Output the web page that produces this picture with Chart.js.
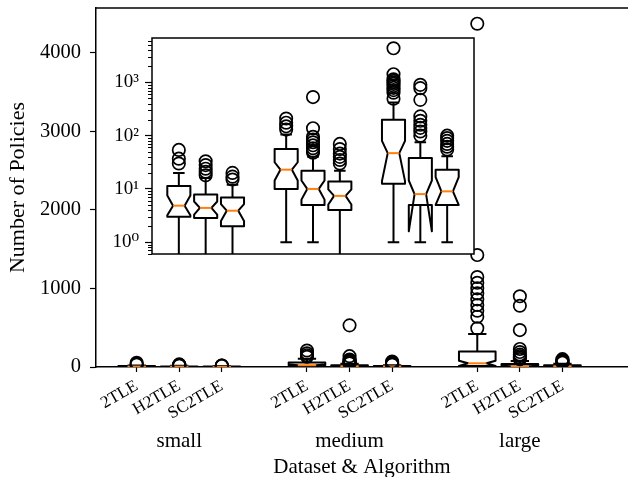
<!DOCTYPE html>
<html><head><meta charset="utf-8">
<script src="https://cdn.jsdelivr.net/npm/chart.js@4/dist/chart.umd.min.js"></script>
<style>
html,body{margin:0;padding:0;background:#fff;overflow:hidden;}
#wrap{position:relative;width:628px;height:477px;}
canvas{position:absolute;left:0;top:0;}
</style></head><body>
<div id="wrap"><canvas id="main" width="628" height="477"></canvas><canvas id="inset" width="628" height="477"></canvas></div>
<script>
// ---- data ----
const groups = ['small', 'medium', 'large'];
const groupCenters = [2, 6, 10];
const algorithms = ['2TLE', 'H2TLE', 'SC2TLE'];
const positions = [1, 2, 3, 5, 6, 7, 9, 10, 11];
const tickLabels = ['2TLE', 'H2TLE', 'SC2TLE', '2TLE', 'H2TLE', 'SC2TLE', '2TLE', 'H2TLE', 'SC2TLE'];
const q1 = [3, 2.85, 2, 10, 5, 4, 12.5, 5, 5];
const medians = [4.85, 4.4, 3.9, 23, 10, 7.4, 47, 8, 9];
const q3 = [11.3, 7.9, 6.9, 56, 22, 13.8, 198, 38, 23];
const whiskerLow = [0, 0, 0, 1, 1, 0, 1, 1, 1];
const whiskerHigh = [20, 16, 12, 105, 40, 22, 420, 75, 41];
const notchLow = [3.2, 3.3, 2.5, 14.4, 6.3, 5.1, 14, 1.6, 5];
const notchHigh = [7.5, 5.8, 5.2, 31.7, 14.4, 9.8, 80, 14.4, 16.6];
const outliers = [
  [54, 37, 30],
  [33, 28, 24, 21, 18],
  [20, 17, 15],
  [210, 175, 150, 130],
  [530, 138, 95, 85, 75, 66, 58, 52, 48],
  [70, 56, 46, 40, 35, 30],
  [4370, 1425, 1145, 1072, 1001, 937, 861, 789, 716, 640, 492],
  [900, 780, 470, 230, 190, 160, 140, 120, 100],
  [100, 90, 80, 70, 62, 55]
];
const mainYTicks = [0, 1000, 2000, 3000, 4000];
const insetYTicks = [1, 10, 100, 1000];
const insetYTickLabels = ['10\u2070', '10\u00B9', '10\u00B2', '10\u00B3'];

// ---- styling ----
const FONT = "'Liberation Serif', 'DejaVu Serif', serif";
const boxWidth = 0.86;
const outlierPoints = outliers.flatMap((arr, i) => arr.map(v => ({x: positions[i], y: v})));

const boxPlugin = {
  id: 'boxes',
  beforeDatasetsDraw(chart) {
    const {ctx, chartArea: a} = chart;
    const xs = chart.scales.x, ys = chart.scales.y;
    const log = ys.type === 'logarithmic';
    const Y = v => ys.getPixelForValue(log ? Math.max(v, 1e-4) : v);
    const X = v => xs.getPixelForValue(v);
    ctx.save();
    ctx.beginPath(); ctx.rect(a.left, a.top, a.right - a.left, a.bottom - a.top); ctx.clip();
    ctx.lineJoin = 'round'; ctx.lineCap = 'butt';
    positions.forEach((p, i) => {
      const xl = X(p - boxWidth / 2), xr = X(p + boxWidth / 2);
      const cl = X(p - boxWidth / 4), cr = X(p + boxWidth / 4), xc = X(p);
      ctx.strokeStyle = '#000'; ctx.lineWidth = 2;
      ctx.beginPath();
      ctx.moveTo(xc, Y(q1[i])); ctx.lineTo(xc, Y(whiskerLow[i]));
      ctx.moveTo(xc, Y(q3[i])); ctx.lineTo(xc, Y(whiskerHigh[i]));
      ctx.moveTo(cl, Y(whiskerLow[i])); ctx.lineTo(cr, Y(whiskerLow[i]));
      ctx.moveTo(cl, Y(whiskerHigh[i])); ctx.lineTo(cr, Y(whiskerHigh[i]));
      ctx.stroke();
      const pts = [[xl, q1[i]], [xr, q1[i]], [xr, notchLow[i]], [cr, medians[i]], [xr, notchHigh[i]],
                   [xr, q3[i]], [xl, q3[i]], [xl, notchHigh[i]], [cl, medians[i]], [xl, notchLow[i]], [xl, q1[i]]];
      ctx.beginPath();
      pts.forEach(([x, v], k) => k ? ctx.lineTo(x, Y(v)) : ctx.moveTo(x, Y(v)));
      ctx.closePath();
      ctx.stroke();
      ctx.strokeStyle = '#ff7f0e';
      ctx.beginPath(); ctx.moveTo(cl, Y(medians[i])); ctx.lineTo(cr, Y(medians[i])); ctx.stroke();
    });
    ctx.restore();
  }
};

const mainFrame = {
  id: 'mainFrame',
  afterDraw(chart) {
    const {ctx, chartArea: a} = chart;
    ctx.save(); ctx.strokeStyle = '#000'; ctx.lineWidth = 1.5;
    ctx.beginPath(); ctx.moveTo(a.left, a.top); ctx.lineTo(a.right, a.top); ctx.stroke();
    ctx.restore();
  }
};

const insetFrame = {
  id: 'insetFrame',
  beforeDraw(chart) {
    const {ctx, chartArea: a} = chart;
    ctx.save(); ctx.fillStyle = '#fff';
    ctx.fillRect(a.left, a.top, a.right - a.left, a.bottom - a.top);
    ctx.restore();
  },
  afterDraw(chart) {
    const {ctx, chartArea: a} = chart;
    const ys = chart.scales.y;
    ctx.save(); ctx.strokeStyle = '#000'; ctx.lineWidth = 1.5;
    ctx.strokeRect(a.left, a.top, a.right - a.left, a.bottom - a.top);
    ctx.lineWidth = 1;
    ctx.beginPath();
    [0.1, 1, 10, 100, 1000].forEach(d => {
      for (let m = 2; m <= 9; m++) {
        const v = m * d;
        if (v < ys.min || v > ys.max) continue;
        const y = Math.round(ys.getPixelForValue(v)) + 0.5;
        ctx.moveTo(a.left - 4, y); ctx.lineTo(a.left, y);
      }
    });
    ctx.stroke();
    ctx.restore();
  }
};

const pointStyle = {
  data: outlierPoints, pointStyle: 'circle', pointRadius: 6.2, pointHoverRadius: 6.2,
  pointBorderColor: '#000', pointBackgroundColor: 'rgba(0,0,0,0)', pointBorderWidth: 1.7,
  showLine: false, clip: 0
};

const common = {
  responsive: false, animation: false, devicePixelRatio: 1, events: [],
  plugins: {legend: {display: false}, tooltip: {enabled: false}}
};

new Chart(document.getElementById('main'), {
  type: 'scatter',
  data: {datasets: [Object.assign({}, pointStyle)]},
  plugins: [boxPlugin, mainFrame],
  options: Object.assign({}, common, {
    layout: {autoPadding: false, padding: {top: 8, right: 0, bottom: 0, left: 0}},
    scales: {
      x: {
        type: 'linear', position: 'bottom', weight: 0, min: 0.045, max: 12.54,
        afterBuildTicks: s => { s.ticks = positions.map(v => ({value: v})); },
        afterFit: s => { s.height = 58; s.paddingLeft = 0; s.paddingRight = 0; },
        ticks: {autoSkip: false, minRotation: 30, maxRotation: 30, color: '#000', padding: 4,
                font: {family: FONT, size: 17}, callback: (v, i) => tickLabels[i]},
        grid: {drawOnChartArea: false, drawTicks: true, tickLength: 5, color: '#000', tickWidth: 1.2},
        border: {display: true, color: '#000', width: 1.5}
      },
      x2: {
        type: 'linear', position: 'bottom', weight: 1, min: 0.045, max: 12.54,
        afterBuildTicks: s => { s.ticks = groupCenters.map(v => ({value: v})); },
        afterFit: s => { s.height = 52; s.paddingLeft = 0; s.paddingRight = 0; },
        ticks: {autoSkip: false, minRotation: 0, maxRotation: 0, color: '#000', padding: 4,
                font: {family: FONT, size: 21}, callback: (v, i) => groups[i]},
        grid: {display: false, drawTicks: false},
        border: {display: false},
        title: {display: true, text: 'Dataset & Algorithm', color: '#000',
                font: {family: FONT, size: 21, lineHeight: 1}, padding: {top: 0, bottom: -1}}
      },
      y: {
        type: 'linear', position: 'left', min: 0, max: 4570,
        afterBuildTicks: s => { s.ticks = mainYTicks.map(v => ({value: v})); },
        afterFit: s => { s.width = 96; s.paddingTop = 0; s.paddingBottom = 0; },
        ticks: {color: '#000', padding: 9, font: {family: FONT, size: 20.5}, callback: v => String(v)},
        grid: {drawOnChartArea: false, drawTicks: true, tickLength: 6, color: '#000', tickWidth: 1.2},
        border: {display: true, color: '#000', width: 1.5},
        title: {display: true, text: 'Number of Policies', color: '#000',
                font: {family: FONT, size: 22, lineHeight: 1}, padding: {top: 7, bottom: 0}}
      }
    }
  })
});

new Chart(document.getElementById('inset'), {
  type: 'scatter',
  data: {datasets: [Object.assign({}, pointStyle)]},
  plugins: [insetFrame, boxPlugin],
  options: Object.assign({}, common, {
    layout: {autoPadding: false, padding: {top: 38, right: 154, bottom: 223, left: 0}},
    scales: {
      x: {type: 'linear', min: 0, max: 12, display: false},
      y: {
        type: 'logarithmic', position: 'left', min: 0.643, max: 6820,
        afterBuildTicks: s => { s.ticks = insetYTicks.map(v => ({value: v, major: true})); },
        afterFit: s => { s.width = 152; s.paddingTop = 0; s.paddingBottom = 0; },
        ticks: {color: '#000', padding: 6, font: {family: FONT, size: 19}, callback: (v, i) => insetYTickLabels[i]},
        grid: {drawOnChartArea: false, drawTicks: true, tickLength: 7, color: '#000', tickWidth: 1.2},
        border: {display: false}
      }
    }
  })
});
</script>
</body></html>
